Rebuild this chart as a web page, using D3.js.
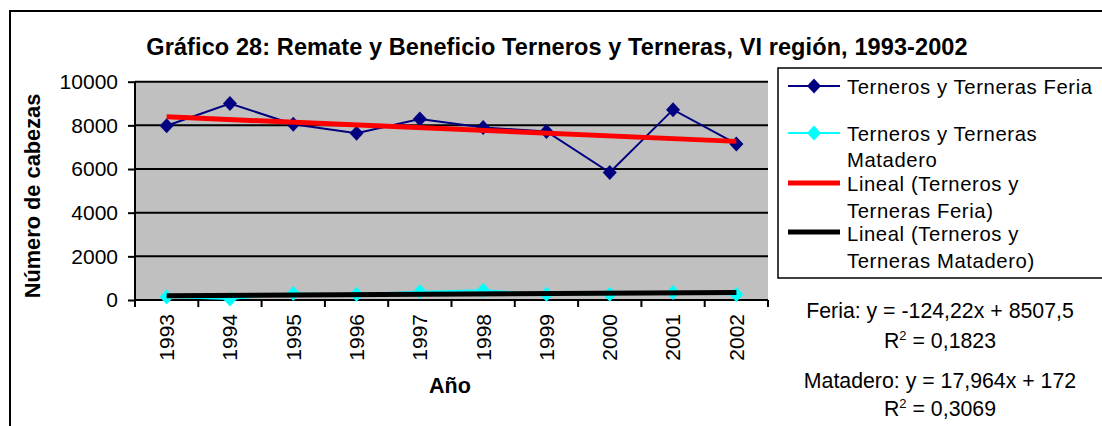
<!DOCTYPE html>
<html><head><meta charset="utf-8">
<script src="https://cdn.jsdelivr.net/npm/d3@7"></script>
<style>
html,body{margin:0;padding:0;background:#fff;}
svg{display:block;font-family:"Liberation Sans",Arial,sans-serif;}
</style></head>
<body><svg id="c" width="1102" height="426"></svg>
<script>
const years = ["1993","1994","1995","1996","1997","1998","1999","2000","2001","2002"];
const feria = [7980, 9000, 8050, 7640, 8290, 7900, 7720, 5840, 8720, 7150];
const matadero = [140, 50, 300, 260, 380, 450, 260, 260, 340, 250];
const yTicks = [0, 2000, 4000, 6000, 8000, 10000];
const seriesNames = ["Terneros y Terneras Feria", "Terneros y Terneras Matadero"];
const titleText = "Gráfico 28: Remate y Beneficio Terneros y Terneras, VI región, 1993-2002";
const yTitle = "Número de cabezas";
const xTitle = "Año";
const eqFeria = ["Feria: y = -124,22x + 8507,5", "0,1823"];
const eqMatadero = ["Matadero: y = 17,964x + 172", "0,3069"];

const svg = d3.select("#c");
const L = 135, R = 768, T = 81.7, B = 300;
const x = d3.scaleBand().domain(years).range([L, R]).padding(0);
const y = d3.scaleLinear().domain([0, 10000]).range([B, T]);
const cx = d => x(d) + x.bandwidth() / 2;
const DIAMOND = "M0,-7.5L7,0L0,7.5L-7,0Z";

// outer border
svg.append("rect").attr("x", 10).attr("y", 11).attr("width", 1200).attr("height", 600)
  .attr("fill", "none").attr("stroke", "#000").attr("stroke-width", 2);

// title
svg.append("text").attr("x", 557).attr("y", 55).attr("text-anchor", "middle")
  .attr("font-weight", "bold").attr("font-size", 23.5).attr("letter-spacing", 0.1).text(titleText);

// plot bg
svg.append("rect").attr("x", L).attr("y", T).attr("width", R - L).attr("height", B - T).attr("fill", "#C0C0C0");

// gridlines
svg.append("g").selectAll("line").data(yTicks.filter(v => v > 0)).join("line")
  .attr("x1", L).attr("x2", R).attr("y1", d => y(d)).attr("y2", d => y(d))
  .attr("stroke", "#000").attr("stroke-width", 2);

// y axis
const ya = svg.append("g").attr("transform", `translate(${L},0)`)
  .call(d3.axisLeft(y).tickValues(yTicks).tickSize(7).tickPadding(10).tickFormat(d3.format("d")));
ya.select(".domain").attr("stroke-width", 2).attr("d", `M0,${T}V${B}`);
ya.selectAll(".tick line").attr("stroke-width", 2);
ya.selectAll("text").attr("font-size", 21).attr("font-family", "Liberation Sans, Arial, sans-serif").attr("fill", "#000");

// x axis
const xa = svg.append("g").attr("transform", `translate(0,${B})`)
  .call(d3.axisBottom(x).tickSize(0).tickPadding(0));
xa.select(".domain").attr("stroke-width", 2).attr("d", `M${L},0H${R}`);
xa.selectAll(".tick text").attr("font-size", 21).attr("font-family", "Liberation Sans, Arial, sans-serif")
  .attr("fill", "#000").attr("text-anchor", "end").attr("dy", "0.35em")
  .attr("transform", "translate(0,14) rotate(-90)").attr("x", 0).attr("y", 0);
const bounds = years.map(d => x(d)).concat([R]);
svg.append("g").selectAll("line").data(bounds).join("line")
  .attr("x1", d => d).attr("x2", d => d).attr("y1", B).attr("y2", B + 7)
  .attr("stroke", "#000").attr("stroke-width", 2);

// axis titles
svg.append("text").attr("x", 450).attr("y", 393).attr("text-anchor", "middle")
  .attr("font-weight", "bold").attr("font-size", 21.5).text(xTitle);
svg.append("text").attr("transform", "translate(40,196) rotate(-90)").attr("text-anchor", "middle")
  .attr("font-weight", "bold").attr("font-size", 21.8).text(yTitle);

// regression
function fit(vals) {
  const xs = vals.map((_, i) => i + 1);
  const mx = d3.mean(xs), my = d3.mean(vals);
  const b = d3.sum(xs, (xi, i) => (xi - mx) * (vals[i] - my)) / d3.sum(xs, xi => (xi - mx) ** 2);
  return [b, my - b * mx];
}
const line = d3.line().x(d => d[0]).y(d => d[1]);
function drawSeries(vals, color) {
  svg.append("path").attr("d", line(vals.map((v, i) => [cx(years[i]), y(v)])))
    .attr("fill", "none").attr("stroke", color).attr("stroke-width", 2);
  svg.append("g").selectAll("path").data(vals).join("path")
    .attr("d", DIAMOND)
    .attr("transform", (v, i) => `translate(${cx(years[i])},${y(v)})`)
    .attr("fill", color);
}
function drawTrend(vals, color) {
  const [b, a] = fit(vals);
  const n = vals.length;
  svg.append("path").attr("d", line([[cx(years[0]), y(a + b)], [cx(years[n - 1]), y(a + b * n)]]))
    .attr("stroke", color).attr("stroke-width", 5).attr("fill", "none");
}
drawSeries(matadero, "#00FFFF");
drawSeries(feria, "#000080");
drawTrend(feria, "#FF0000");
drawTrend(matadero, "#000000");

// legend
const lg = svg.append("g");
lg.append("rect").attr("x", 778).attr("y", 68).attr("width", 400).attr("height", 210)
  .attr("fill", "#fff").attr("stroke", "#000").attr("stroke-width", 1.5);
const legendItems = [
  {color: "#000080", marker: true, w: 2, ly: 86, lines: [seriesNames[0]], by: [93.5]},
  {color: "#00FFFF", marker: true, w: 2, ly: 133, lines: ["Terneros y Terneras", "Matadero"], by: [140.5, 167]},
  {color: "#FF0000", marker: false, w: 5, ly: 183, lines: ["Lineal (Terneros y", "Terneras Feria)"], by: [191, 218]},
  {color: "#000000", marker: false, w: 5, ly: 232, lines: ["Lineal (Terneros y", "Terneras Matadero)"], by: [241, 268]}
];
legendItems.forEach(it => {
  lg.append("line").attr("x1", 788).attr("x2", 840).attr("y1", it.ly).attr("y2", it.ly)
    .attr("stroke", it.color).attr("stroke-width", it.w);
  if (it.marker) lg.append("path").attr("d", DIAMOND)
    .attr("transform", `translate(814,${it.ly})`).attr("fill", it.color);
  it.lines.forEach((t, k) => lg.append("text").attr("x", 847).attr("y", it.by[k])
    .attr("font-size", 20.3).attr("letter-spacing", 0.6).text(t));
});

// equations
function eq(lines, y1, y2) {
  svg.append("text").attr("x", 940).attr("y", y1).attr("text-anchor", "middle").attr("font-size", 21.3).text(lines[0]);
  const t = svg.append("text").attr("x", 940).attr("y", y2).attr("text-anchor", "middle").attr("font-size", 21.3);
  t.append("tspan").text("R");
  t.append("tspan").attr("font-size", 13).attr("dy", -8).text("2");
  t.append("tspan").attr("dy", 8).text(" = " + lines[1]);
}
eq(eqFeria, 317.5, 347.5);
eq(eqMatadero, 387.5, 415.5);
</script></body></html>
